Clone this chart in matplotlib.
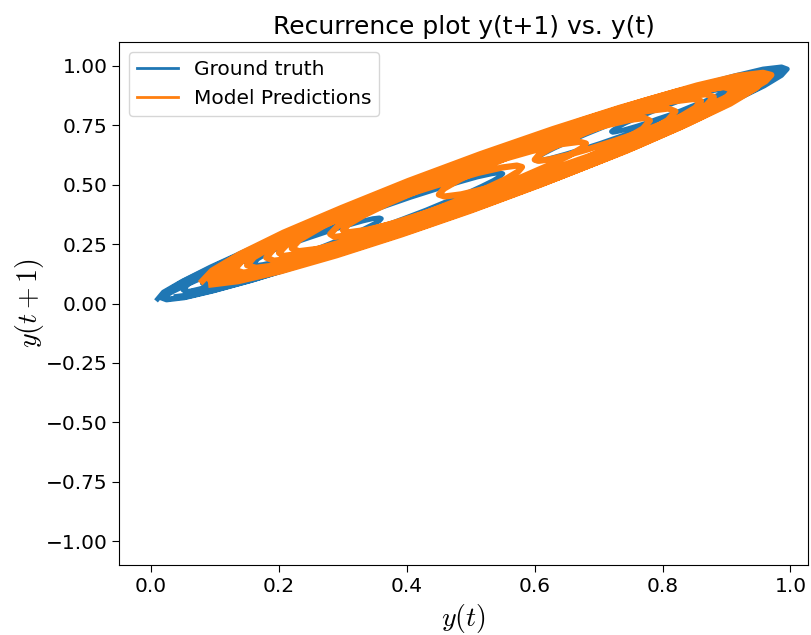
import matplotlib
matplotlib.use("Agg")
import matplotlib.pyplot as plt
import numpy as np

plt.rcParams['mathtext.fontset'] = 'cm'

y_true = [
    0.010, 0.019, 0.048, 0.093, 0.154, 0.229, 0.314, 0.406, 0.503, 0.598, 0.691, 0.776, 0.851, 0.912, 0.957, 0.986, 0.995,
    0.986, 0.959, 0.915, 0.857, 0.785, 0.703, 0.615, 0.523, 0.430, 0.342, 0.260, 0.188, 0.130, 0.086, 0.059, 0.050,
    0.058, 0.084, 0.124, 0.179, 0.246, 0.322, 0.404, 0.490, 0.576, 0.658, 0.734, 0.801, 0.856, 0.896, 0.922, 0.930,
    0.927, 0.917, 0.902, 0.882, 0.857, 0.828, 0.797, 0.765, 0.733, 0.702, 0.673, 0.648, 0.628, 0.613, 0.603, 0.600,
    0.604, 0.614, 0.631, 0.654, 0.682, 0.714, 0.749, 0.785, 0.821, 0.856, 0.888, 0.916, 0.939, 0.956, 0.966, 0.970,
    0.961, 0.936, 0.895, 0.840, 0.772, 0.695, 0.612, 0.525, 0.438, 0.355, 0.278, 0.210, 0.155, 0.114, 0.089, 0.080,
    0.085, 0.098, 0.120, 0.149, 0.184, 0.225, 0.269, 0.315, 0.361, 0.405, 0.446, 0.481, 0.510, 0.532, 0.545, 0.550,
    0.546, 0.535, 0.517, 0.493, 0.463, 0.430, 0.393, 0.355, 0.317, 0.280, 0.247, 0.217, 0.193, 0.175, 0.164, 0.160,
    0.167, 0.188, 0.222, 0.268, 0.324, 0.388, 0.458, 0.530, 0.602, 0.672, 0.736, 0.792, 0.838, 0.872, 0.893, 0.900,
    0.898, 0.893, 0.885, 0.874, 0.860, 0.844, 0.828, 0.810, 0.792, 0.776, 0.760, 0.746, 0.735, 0.727, 0.722, 0.720,
    0.723, 0.730, 0.742, 0.759, 0.779, 0.802, 0.827, 0.853, 0.878, 0.903, 0.926, 0.946, 0.963, 0.975, 0.983, 0.985,
    0.976, 0.948, 0.904, 0.844, 0.771, 0.687, 0.597, 0.503, 0.408, 0.318, 0.234, 0.161, 0.101, 0.057, 0.029, 0.020,
    0.023, 0.033, 0.049, 0.070, 0.096, 0.125, 0.157, 0.190, 0.223, 0.255, 0.284, 0.310, 0.331, 0.347, 0.357, 0.360,
    0.357, 0.348, 0.334, 0.315, 0.291, 0.264, 0.235, 0.205, 0.175, 0.146, 0.119, 0.095, 0.076, 0.062, 0.053, 0.050,
    0.059, 0.085, 0.128, 0.186, 0.257, 0.337, 0.424, 0.515, 0.606, 0.693, 0.773, 0.844, 0.902, 0.945, 0.971, 0.980,
    0.971, 0.943, 0.899, 0.839, 0.766, 0.682, 0.592, 0.498, 0.403, 0.313, 0.229, 0.156, 0.096, 0.052, 0.024, 0.015,
    0.024, 0.051, 0.095, 0.153, 0.225, 0.307, 0.395, 0.488, 0.580, 0.668, 0.750, 0.822, 0.880, 0.924, 0.951, 0.960,
    0.951, 0.925, 0.882, 0.824, 0.753, 0.673, 0.586, 0.495, 0.404, 0.317, 0.237, 0.166, 0.108, 0.065, 0.039, 0.030,
]

# model predictions y(t)
y_pred = [
    0.080, 0.095, 0.138, 0.207, 0.298, 0.402, 0.515, 0.628, 0.733, 0.823, 0.892, 0.935, 0.950,
    0.936, 0.894, 0.829, 0.743, 0.642, 0.535, 0.428, 0.328, 0.242, 0.176, 0.134, 0.120,
    0.133, 0.171, 0.231, 0.310, 0.402, 0.500, 0.598, 0.690, 0.769, 0.829, 0.867, 0.880,
    0.869, 0.836, 0.783, 0.715, 0.635, 0.550, 0.465, 0.385, 0.317, 0.264, 0.231, 0.220,
    0.232, 0.268, 0.324, 0.398, 0.483, 0.575, 0.667, 0.753, 0.826, 0.882, 0.918, 0.930,
    0.916, 0.874, 0.809, 0.723, 0.622, 0.515, 0.408, 0.308, 0.222, 0.156, 0.114, 0.100,
    0.110, 0.139, 0.185, 0.245, 0.315, 0.390, 0.465, 0.535, 0.595, 0.641, 0.670, 0.680,
    0.673, 0.653, 0.621, 0.580, 0.532, 0.480, 0.428, 0.380, 0.339, 0.307, 0.287, 0.280,
    0.292, 0.326, 0.380, 0.450, 0.532, 0.620, 0.708, 0.790, 0.860, 0.914, 0.948, 0.960,
    0.946, 0.906, 0.841, 0.758, 0.660, 0.555, 0.450, 0.353, 0.269, 0.204, 0.164, 0.150,
    0.161, 0.195, 0.248, 0.318, 0.398, 0.485, 0.572, 0.653, 0.722, 0.775, 0.809, 0.820,
    0.808, 0.771, 0.713, 0.638, 0.550, 0.455, 0.361, 0.273, 0.197, 0.139, 0.102, 0.090,
    0.104, 0.145, 0.210, 0.295, 0.394, 0.500, 0.606, 0.705, 0.790, 0.855, 0.896, 0.910,
    0.898, 0.861, 0.803, 0.728, 0.640, 0.545, 0.451, 0.363, 0.287, 0.229, 0.192, 0.180,
    0.193, 0.233, 0.296, 0.378, 0.473, 0.575, 0.677, 0.773, 0.854, 0.917, 0.957, 0.970,
    0.961, 0.935, 0.894, 0.840, 0.777, 0.710, 0.643, 0.580, 0.526, 0.485, 0.459, 0.450,
    0.458, 0.483, 0.522, 0.573, 0.632, 0.695, 0.758, 0.818, 0.868, 0.907, 0.932, 0.940,
    0.926, 0.886, 0.821, 0.738, 0.640, 0.535, 0.430, 0.333, 0.249, 0.184, 0.144, 0.130,
    0.142, 0.179, 0.237, 0.313, 0.401, 0.495, 0.590, 0.678, 0.753, 0.811, 0.848, 0.860,
    0.851, 0.823, 0.778, 0.720, 0.652, 0.580, 0.508, 0.440, 0.382, 0.338, 0.310, 0.300,
    0.308, 0.332, 0.370, 0.420, 0.478, 0.540, 0.602, 0.660, 0.710, 0.748, 0.772, 0.780,
    0.769, 0.735, 0.682, 0.613, 0.532, 0.445, 0.358, 0.278, 0.208, 0.155, 0.121, 0.110,
    0.118, 0.142, 0.179, 0.228, 0.284, 0.345, 0.406, 0.463, 0.511, 0.549, 0.572, 0.580,
    0.574, 0.555, 0.524, 0.485, 0.439, 0.390, 0.341, 0.295, 0.256, 0.226, 0.207, 0.200,
    0.213, 0.250, 0.308, 0.385, 0.474, 0.570, 0.666, 0.755, 0.832, 0.890, 0.927, 0.940,
    0.934, 0.917, 0.890, 0.855, 0.814, 0.770, 0.726, 0.685, 0.650, 0.623, 0.606, 0.600,
    0.605, 0.621, 0.647, 0.680, 0.719, 0.760, 0.801, 0.840, 0.873, 0.899, 0.915, 0.920,
    0.906, 0.864, 0.797, 0.710, 0.609, 0.500, 0.391, 0.290, 0.203, 0.136, 0.094, 0.080,
]

y_true = np.array(y_true)
y_pred = np.array(y_pred)

fig = plt.figure(figsize=(8.11, 6.35), dpi=100)
ax = fig.add_axes([0.147, 0.11, 0.849, 0.824])

ax.plot(y_true[:-1], y_true[1:], color='#1f77b4', lw=3.5, label='Ground truth')
ax.plot(y_pred[:-1], y_pred[1:], color='#ff7f0e', lw=4.5, label='Model Predictions')

ax.set_xlim(-0.05, 1.027)
ax.set_ylim(-1.1, 1.1)
ax.set_xticks([0.0, 0.2, 0.4, 0.6, 0.8, 1.0])
ax.set_yticks([-1.0, -0.75, -0.5, -0.25, 0.0, 0.25, 0.5, 0.75, 1.0])
ax.tick_params(labelsize=14.5, length=5)
ax.set_title('Recurrence plot y(t+1) vs. y(t)', fontsize=18)
ax.set_xlabel(r'$y(t)$', fontsize=20)
ax.set_ylabel(r'$y(t+1)$', fontsize=20, labelpad=0)
leg = ax.legend(loc='upper left', fontsize=14.5, handlelength=2.0)
for h in leg.get_lines():
    h.set_linewidth(2)

fig.savefig('out.png', dpi=100)
